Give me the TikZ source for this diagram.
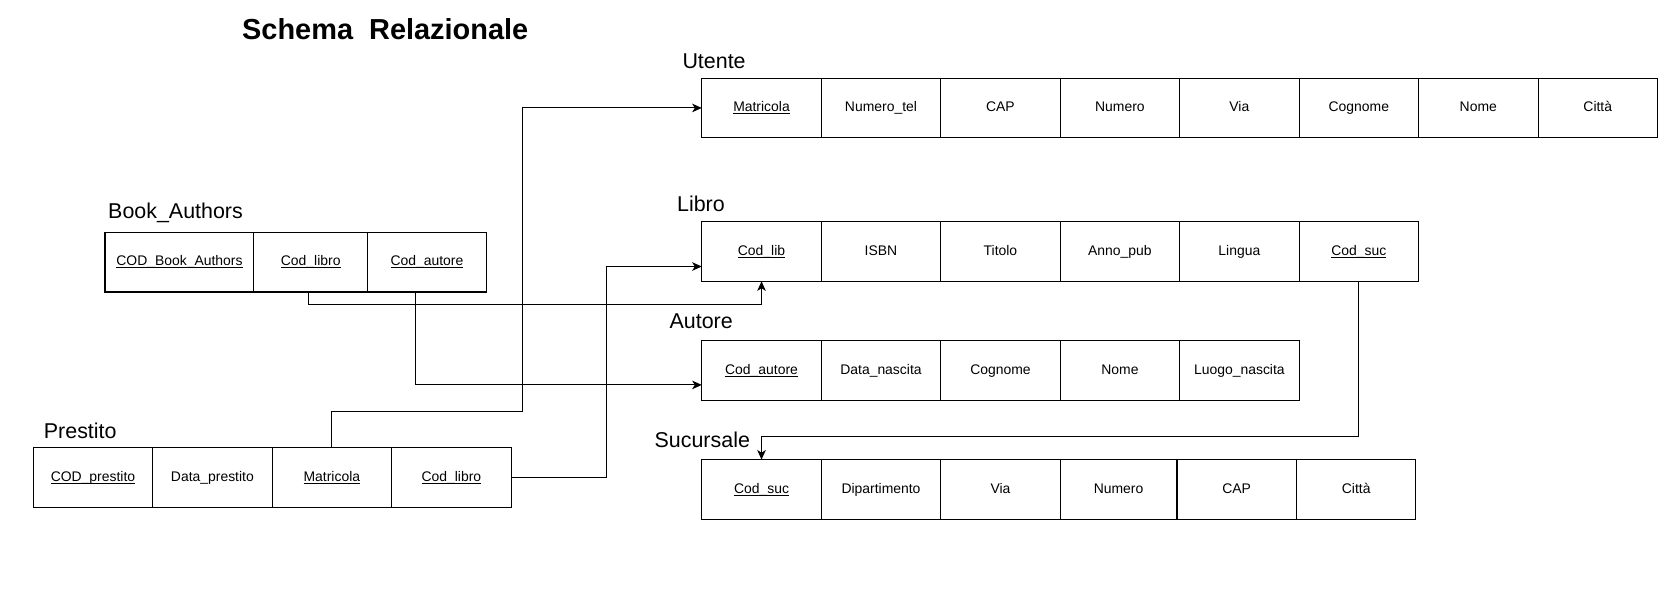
\documentclass[tikz,border=0pt]{standalone}
\usepackage{fontspec}
\setmainfont{Liberation Sans}
\usetikzlibrary{positioning,arrows.meta}
\newcommand{\pkey}[1]{\setbox0=\hbox{#1}\rlap{\rule[-2.2pt]{\wd0}{0.8pt}}\box0}

\begin{document}
\begin{tikzpicture}[x=1pt,y=-1pt,line width=1pt]
	\tikzstyle{every node}+=[inner sep=0pt,outer sep=0pt]
	\tikzstyle{cell}=[draw,minimum width=111.5pt,minimum height=55.5pt,text height=10pt,text depth=3pt,font=\fontsize{13}{15}\selectfont]
	\tikzstyle{tname}=[anchor=base west,font=\fontsize{20}{24}\selectfont]
	\tikzstyle{fk}=[-{Stealth[length=9pt,width=8pt,inset=2.5pt]}]
	\useasboundingbox (0,0) rectangle (1568,554);
	\node [anchor=base west,font=\fontsize{27}{32}\selectfont\bfseries] (title) at (226,37) {Schema\ \ Relazionale};
	% Utente
	\node [tname] (uName) at (637,64) {Utente};
	\node [cell,anchor=north west] (uMat) at (655,73) {\pkey{Matricola}};
	\node [cell,right=0pt of uMat] (uTel) {Numero\_tel};
	\node [cell,right=0pt of uTel] (uCap) {CAP};
	\node [cell,right=0pt of uCap] (uNum) {Numero};
	\node [cell,right=0pt of uNum] (uVia) {Via};
	\node [cell,right=0pt of uVia] (uCog) {Cognome};
	\node [cell,right=0pt of uCog] (uNom) {Nome};
	\node [cell,right=0pt of uNom] (uCit) {Città};
	% Libro
	\node [tname] (lName) at (632,197) {Libro};
	\node [cell,anchor=north west] (lCod) at (655,207) {\pkey{Cod\_lib}};
	\node [cell,right=0pt of lCod] (lIsbn) {ISBN};
	\node [cell,right=0pt of lIsbn] (lTit) {Titolo};
	\node [cell,right=0pt of lTit] (lAnno) {Anno\_pub};
	\node [cell,right=0pt of lAnno] (lLing) {Lingua};
	\node [cell,right=0pt of lLing] (lSuc) {\pkey{Cod\_suc}};
	% Autore
	\node [tname] (aName) at (625,307) {Autore};
	\node [cell,anchor=north west] (aCod) at (655,318) {\pkey{Cod\_autore}};
	\node [cell,right=0pt of aCod] (aData) {Data\_nascita};
	\node [cell,right=0pt of aData] (aCog) {Cognome};
	\node [cell,right=0pt of aCog] (aNom) {Nome};
	\node [cell,right=0pt of aNom] (aLuogo) {Luogo\_nascita};
	% Sucursale
	\node [tname] (sName) at (611,418) {Sucursale};
	\node [cell,anchor=north west] (sCod) at (655,429) {\pkey{Cod\_suc}};
	\node [cell,right=0pt of sCod] (sDip) {Dipartimento};
	\node [cell,right=0pt of sDip] (sVia) {Via};
	\node [cell,right=0pt of sVia,minimum width=109pt] (sNum) {Numero};
	\node [cell,right=0pt of sNum] (sCap) {CAP};
	\node [cell,right=0pt of sCap] (sCit) {Città};
	% Book_Authors
	\node [tname] (bName) at (101,204) {Book\_Authors};
	\node [cell,anchor=north west,minimum width=139pt] (bCod) at (98,217) {\pkey{COD\_Book\_Authors}};
	\node [cell,right=0pt of bCod,minimum width=106pt] (bLib) {\pkey{Cod\_libro}};
	\node [cell,right=0pt of bLib,minimum width=111pt] (bAut) {\pkey{Cod\_autore}};
	% Prestito
	\node [tname] (pName) at (41,409) {Prestito};
	\node [cell,anchor=north west] (pCod) at (31,418) {\pkey{COD\_prestito}};
	\node [cell,right=0pt of pCod] (pData) {Data\_prestito};
	\node [cell,right=0pt of pData] (pMat) {\pkey{Matricola}};
	\node [cell,right=0pt of pMat] (pLib) {\pkey{Cod\_libro}};
	% foreign keys
	\draw [fk] (pMat.north) |- (488,384) |- (uMat.west);
	\draw [fk] (pLib.east) -| ([xshift=-89pt,yshift=-14pt]lCod.west) -- ([yshift=-14pt]lCod.west);
	\draw [fk] ([xshift=-2.5pt]bLib.south) -- ++(0,12) -| (lCod.south);
	\draw [fk] ([xshift=-11pt]bAut.south) |- ([yshift=-13.5pt]aCod.west);
	\draw [fk] (lSuc.south) -- ++(0,145) -| (sCod.north);
\end{tikzpicture}
\end{document}
